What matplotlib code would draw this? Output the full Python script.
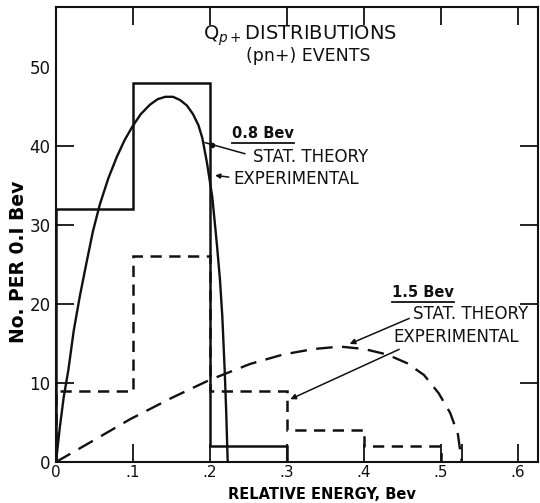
"""
plot.py
Q_p+ distributions for (pn+) events, 0.8 and 1.5 Bev.
Writes out.png
"""

import matplotlib
matplotlib.use("Agg")
import matplotlib.pyplot as plt
from matplotlib.lines import Line2D

# ── data ───────────────────────────────────────────────────────────────────────
bin_edges_08 = [0.0, 0.1, 0.2, 0.3]
counts_08    = [32, 48, 2]

bin_edges_15 = [0.0, 0.1, 0.2, 0.3, 0.4, 0.5]
counts_15    = [9, 26, 9, 4, 2]

# statistical theory curves
theory_08_x = [0.0, 0.005, 0.010, 0.016, 0.023, 0.031, 0.040, 0.048, 0.057,
               0.068, 0.079, 0.089, 0.099, 0.110, 0.122, 0.132, 0.142, 0.152,
               0.161, 0.170, 0.178, 0.185, 0.190, 0.196, 0.203, 0.209, 0.213,
               0.216, 0.219, 0.221, 0.223]
theory_08_y = [0.0, 4.4, 8.2, 11.6, 16.6, 21.0, 25.4, 29.2, 32.6,
               35.9, 38.6, 40.7, 42.4, 44.0, 45.2, 45.9, 46.2, 46.2,
               45.8, 45.1, 44.0, 42.6, 41.0, 37.9, 33.5, 27.5, 23.0,
               18.4, 11.8, 6.5, 0.0]

theory_15_x = [0.0, 0.05, 0.096, 0.15, 0.200, 0.252, 0.295, 0.335, 0.369,
               0.400, 0.430, 0.456, 0.478, 0.497, 0.512, 0.522, 0.527]
theory_15_y = [0.0, 2.8, 5.4, 8.1, 10.4, 12.4, 13.6, 14.3, 14.6,
               14.3, 13.6, 12.5, 11.0, 8.7, 6.2, 3.5, 0.0]

x_ticks       = [0.0, 0.1, 0.2, 0.3, 0.4, 0.5, 0.6]
x_tick_labels = ["0", ".1", ".2", ".3", ".4", ".5", ".6"]
y_ticks       = [0, 10, 20, 30, 40, 50]
y_tick_labels = ["0", "10", "20", "30", "40", "50"]
x_limit_tick  = 0.527   # end of the 1.5 Bev spectrum

INK = "#111111"

plt.rcParams.update({
    "font.family": "DejaVu Sans",
    "font.size":   10,
    "text.color":  INK,
    "axes.edgecolor": INK,
    "xtick.color": INK,
    "ytick.color": INK,
})


def underline(fig, txt, pad=2):
    # short rule under a text, in figure pixels
    bb = txt.get_window_extent(fig.canvas.get_renderer())
    fig.add_artist(Line2D([bb.x0, bb.x1], [bb.y0 - pad, bb.y0 - pad],
                          transform=None, color=INK, lw=1.3))


def main():
    fig = plt.figure(figsize=(5.4, 5.03), dpi=100)
    ax = fig.add_axes([0.1037, 0.0815, 0.8926, 0.9052])

    # histograms
    ax.stairs(counts_08, bin_edges_08, baseline=0, color=INK, lw=1.8)
    ax.stairs(counts_15, bin_edges_15, baseline=0, color=INK, lw=1.8,
              linestyle=(0, (4.5, 3)))

    # theory curves
    ax.plot(theory_08_x, theory_08_y, color=INK, lw=1.7)
    ax.plot(theory_15_x, theory_15_y, color=INK, lw=1.7,
            linestyle=(0, (7, 4)))

    ax.set_xlim(0, 0.626)
    ax.set_ylim(0, 57.6)

    ax.set_xticks(x_ticks)
    ax.set_xticklabels(x_tick_labels)
    ax.set_yticks(y_ticks)
    ax.set_yticklabels(y_tick_labels)
    ax.set_xticks([x_limit_tick], minor=True)
    ax.tick_params(which="major", direction="in", length=13, width=1.3,
                   top=True, right=True, labelsize=12, pad=4)
    ax.tick_params(axis="x", which="major", labelsize=11, pad=2.5)
    ax.tick_params(which="minor", direction="in", length=13, width=1.3,
                   top=False, bottom=True)
    # no tick marks at the corners / top of scale
    for loc, t in zip(x_ticks, ax.xaxis.get_major_ticks()):
        if loc == 0.0:
            t.tick1line.set_visible(False)
            t.tick2line.set_visible(False)
    for loc, t in zip(y_ticks, ax.yaxis.get_major_ticks()):
        if loc in (0, 50):
            t.tick1line.set_visible(False)
            t.tick2line.set_visible(False)
    for s in ax.spines.values():
        s.set_linewidth(1.5)

    ax.set_xlabel("RELATIVE ENERGY, Bev", fontsize=10.5, fontweight="bold")
    ax.xaxis.set_label_coords(0.552, -0.054)
    ax.set_ylabel("No. PER 0.I Bev", fontsize=13.5, fontweight="bold")
    ax.yaxis.set_label_coords(-0.058, 0.44)

    # title block inside the frame
    ax.text(0.507, 0.936, r"Q$_{p+}$DISTRIBUTIONS", transform=ax.transAxes,
            ha="center", va="center", fontsize=14)
    ax.text(0.524, 0.892, "(pn+) EVENTS", transform=ax.transAxes,
            ha="center", va="center", fontsize=12.5)

    # 0.8 Bev labels
    t08 = ax.text(0.229, 41.6, "0.8 Bev", ha="left", va="center",
                  fontsize=10.5, fontweight="bold")
    ax.text(0.256, 38.6, "STAT. THEORY", ha="left", va="center", fontsize=12)
    ax.text(0.230, 35.8, "EXPERIMENTAL", ha="left", va="center", fontsize=12)
    ax.annotate("", xy=(0.190, 40.5), xytext=(0.249, 38.9),
                arrowprops=dict(arrowstyle="-", color=INK, lw=1.1))
    ax.plot([0.203], [40.1], "o", color=INK, ms=3)
    ax.annotate("", xy=(0.203, 36.3), xytext=(0.228, 36.0),
                arrowprops=dict(arrowstyle="-|>", color=INK, lw=1.1,
                                mutation_scale=7))

    # 1.5 Bev labels
    t15 = ax.text(0.436, 21.4, "1.5 Bev", ha="left", va="center",
                  fontsize=10.5, fontweight="bold")
    ax.text(0.464, 18.7, "STAT. THEORY", ha="left", va="center", fontsize=12)
    ax.text(0.438, 15.8, "EXPERIMENTAL", ha="left", va="center", fontsize=12)
    ax.annotate("", xy=(0.378, 14.8), xytext=(0.462, 18.3),
                arrowprops=dict(arrowstyle="-|>", color=INK, lw=1.1,
                                mutation_scale=8))
    ax.annotate("", xy=(0.301, 7.8), xytext=(0.449, 14.4),
                arrowprops=dict(arrowstyle="-|>", color=INK, lw=1.1,
                                mutation_scale=8))

    fig.canvas.draw()
    underline(fig, t08)
    underline(fig, t15)

    fig.savefig("out.png", dpi=100, facecolor="white")
    plt.close(fig)


if __name__ == "__main__":
    main()
